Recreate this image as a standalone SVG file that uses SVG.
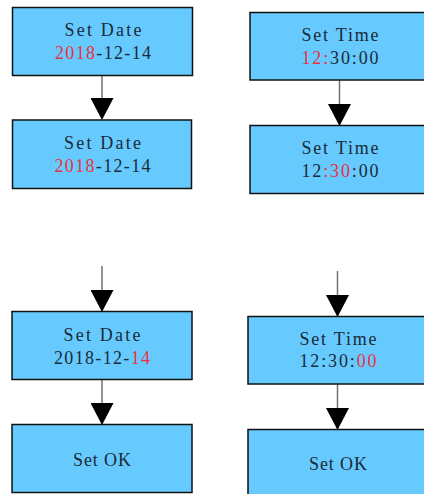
<svg xmlns="http://www.w3.org/2000/svg" width="424" height="494" viewBox="0 0 424 494">
<style>
.box{fill:#66CAFF;stroke:#111;stroke-width:1.5}
.t{font-family:"Liberation Serif","DejaVu Serif",serif;font-size:18px;fill:#1a2a36;text-anchor:middle}
.r{fill:#e8323c}
.c{stroke:#707070;stroke-width:1.5;fill:none;marker-end:url(#ah)}
</style>
<defs>
<marker id="ah" markerUnits="userSpaceOnUse" viewBox="0 0 22 23" refX="21" refY="11.5" markerWidth="22" markerHeight="23" orient="auto">
<path d="M0,0 L22,11.5 L0,23 Z" fill="#000"/>
</marker>
</defs>
<rect width="424" height="494" fill="#fff"/>
<g id="connectors">
<line class="c" x1="102" y1="75.5" x2="102" y2="119"/>
<line class="c" x1="102" y1="266" x2="102" y2="311"/>
<line class="c" x1="102" y1="379.5" x2="102" y2="424"/>
<line class="c" x1="339.5" y1="80" x2="339.5" y2="125"/>
<line class="c" x1="337.5" y1="271" x2="337.5" y2="316"/>
<line class="c" x1="337.5" y1="384" x2="337.5" y2="429"/>
</g>
<g id="date1">
<rect class="box" x="12.5" y="7.5" width="180" height="68"/>
<text class="t" x="103" y="36" textLength="77" lengthAdjust="spacing">Set Date</text>
<text class="t" x="103" y="59" textLength="96" lengthAdjust="spacing"><tspan class="r">2018</tspan>-12-14</text>
</g>
<g id="date2">
<rect class="box" x="12.5" y="120" width="179" height="68.5"/>
<text class="t" x="102.5" y="149" textLength="77" lengthAdjust="spacing">Set Date</text>
<text class="t" x="102.5" y="172" textLength="96" lengthAdjust="spacing"><tspan class="r">2018</tspan>-12-14</text>
</g>
<g id="date3">
<rect class="box" x="12" y="311.5" width="180" height="68"/>
<text class="t" x="102" y="341" textLength="77" lengthAdjust="spacing">Set Date</text>
<text class="t" x="102" y="364" textLength="96" lengthAdjust="spacing">2018-12-<tspan class="r">14</tspan></text>
</g>
<g id="dateok">
<rect class="box" x="12" y="424.5" width="180" height="68"/>
<text class="t" x="102" y="466" textLength="58" lengthAdjust="spacing">Set OK</text>
</g>
<g id="time1">
<rect class="box" x="250" y="12.5" width="181" height="67.5"/>
<text class="t" x="340" y="41" textLength="77" lengthAdjust="spacing">Set Time</text>
<text class="t" x="340" y="64" textLength="77" lengthAdjust="spacing"><tspan class="r">12:</tspan>30:00</text>
</g>
<g id="time2">
<rect class="box" x="250" y="125.5" width="181" height="68"/>
<text class="t" x="340" y="154" textLength="77" lengthAdjust="spacing">Set Time</text>
<text class="t" x="340" y="177" textLength="77" lengthAdjust="spacing">12<tspan class="r">:30</tspan>:00</text>
</g>
<g id="time3">
<rect class="box" x="248" y="316.5" width="181" height="67.5"/>
<text class="t" x="338" y="345" textLength="77" lengthAdjust="spacing">Set Time</text>
<text class="t" x="338" y="367" textLength="77" lengthAdjust="spacing">12:30:<tspan class="r">00</tspan></text>
</g>
<g id="timeok">
<rect class="box" x="248" y="429.5" width="181" height="68"/>
<text class="t" x="338" y="470" textLength="58" lengthAdjust="spacing">Set OK</text>
</g>
</svg>
